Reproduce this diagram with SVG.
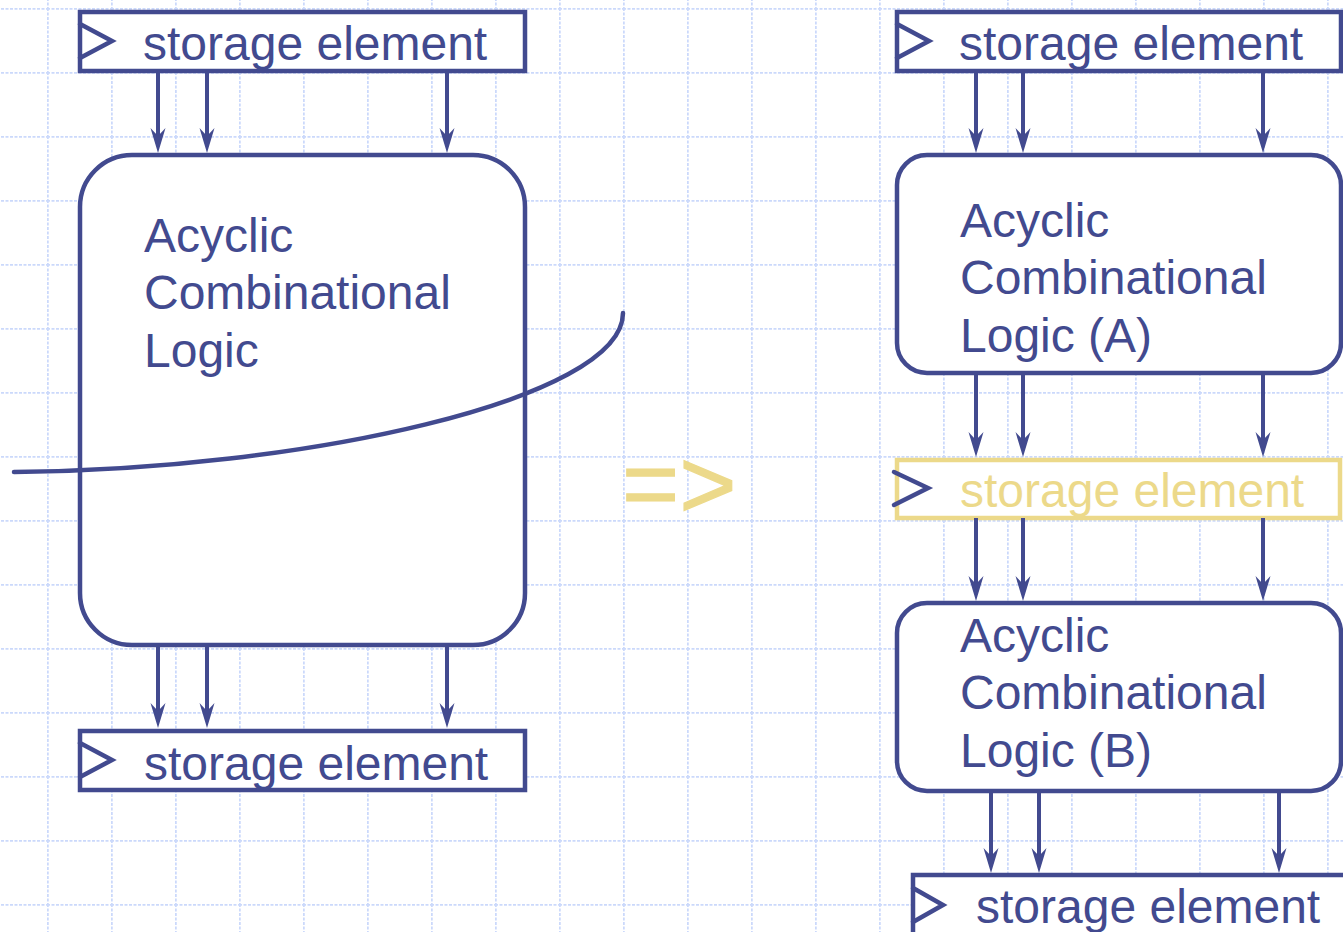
<svg xmlns="http://www.w3.org/2000/svg" width="1343" height="932" viewBox="0 0 1343 932">
<style>
.w{fill:#fff;stroke:#424a8f;stroke-width:4.5}
.clk{fill:none;stroke:#424a8f;stroke-width:4.5;stroke-linecap:round;stroke-linejoin:miter}
.t{font-family:"Liberation Sans",Arial,sans-serif;font-size:48px;fill:#424a8f}
.ty{font-family:"Liberation Sans",Arial,sans-serif;font-size:48px;fill:#ecd98a}
.c{stroke:#424a8f;stroke-width:4;fill:none}
.ah{fill:#424a8f}
.g{stroke:#cbd9fb;stroke-width:3.5;stroke-dasharray:3 1.5;fill:none}
</style>
<defs>
<path id="ah" class="ah" d="M0,0 L-7.5,-25 L0,-17 L7.5,-25 Z"/>
<pattern id="grid" x="47" y="8" width="64" height="64" patternUnits="userSpaceOnUse">
<path class="g" d="M0,0 V64 M0,0 H64"/>
</pattern>
</defs>
<rect width="1343" height="932" fill="#fff"/>
<rect width="1343" height="932" fill="url(#grid)"/>

<g id="left-top-storage">
<rect class="w" x="80" y="12" width="445" height="59"/>
<path class="clk" d="M80,24 L112,41 L80,58"/>
<text class="t" x="143" y="60">storage element</text>
</g>
<g id="left-logic">
<rect class="w" x="80" y="155" width="445" height="490" rx="52" ry="52"/>
<text class="t" x="144" y="252">Acyclic</text>
<text class="t" x="144" y="309">Combinational</text>
<text class="t" x="144" y="367">Logic</text>
</g>
<g id="left-bottom-storage">
<rect class="w" x="80" y="731" width="445" height="59"/>
<path class="clk" d="M80,743 L112,760 L80,777"/>
<text class="t" x="144" y="780">storage element</text>
</g>

<g id="right-top-storage">
<rect class="w" x="897" y="12" width="444" height="59"/>
<path class="clk" d="M897,24 L929,41 L897,58"/>
<text class="t" x="959" y="60">storage element</text>
</g>
<g id="logic-a">
<rect class="w" x="897" y="155" width="444" height="218" rx="30" ry="30"/>
<text class="t" x="960" y="237">Acyclic</text>
<text class="t" x="960" y="294">Combinational</text>
<text class="t" x="960" y="352">Logic (A)</text>
</g>
<g id="mid-storage">
<rect x="897" y="460" width="443" height="58" fill="#fff" stroke="#ecd98a" stroke-width="4.5"/>
<path class="clk" d="M894,472 L928,488 L894,505"/>
<text class="ty" x="960" y="507">storage element</text>
</g>
<g id="logic-b">
<rect class="w" x="897" y="603" width="444" height="188" rx="30" ry="30"/>
<text class="t" x="960" y="652">Acyclic</text>
<text class="t" x="960" y="709">Combinational</text>
<text class="t" x="960" y="767">Logic (B)</text>
</g>
<g id="right-bottom-storage">
<rect class="w" x="913" y="875" width="440" height="70"/>
<path class="clk" d="M913,888 L943,905 L913,922"/>
<text class="t" x="976" y="923">storage element</text>
</g>

<g id="connectors">
<path class="c" d="M158,71 V140 M207,71 V140 M447,71 V140"/>
<use href="#ah" x="158" y="153"/><use href="#ah" x="207" y="153"/><use href="#ah" x="447" y="153"/>
<path class="c" d="M158,645 V715 M207,645 V715 M447,645 V715"/>
<use href="#ah" x="158" y="728"/><use href="#ah" x="207" y="728"/><use href="#ah" x="447" y="728"/>

<path class="c" d="M976,71 V140 M1023,71 V140 M1263,71 V140"/>
<use href="#ah" x="976" y="153"/><use href="#ah" x="1023" y="153"/><use href="#ah" x="1263" y="153"/>
<path class="c" d="M976,373 V443 M1023,373 V443 M1263,373 V443"/>
<use href="#ah" x="976" y="457"/><use href="#ah" x="1023" y="457"/><use href="#ah" x="1263" y="457"/>
<path class="c" d="M976,518 V588 M1023,518 V588 M1263,518 V588"/>
<use href="#ah" x="976" y="601"/><use href="#ah" x="1023" y="601"/><use href="#ah" x="1263" y="601"/>
<path class="c" d="M991,791 V860 M1039,791 V860 M1279,791 V860"/>
<use href="#ah" x="991" y="873"/><use href="#ah" x="1039" y="873"/><use href="#ah" x="1279" y="873"/>
</g>

<g id="cut">
<path d="M14,472 C300,470 623,400 623,313" fill="none" stroke="#424a8f" stroke-width="4.5" stroke-linecap="round"/>
</g>
<g id="implies">
<text x="622" y="518" font-family="'Liberation Sans',Arial,sans-serif" font-size="98" fill="#ecd98a" stroke="#ecd98a" stroke-width="1.2">=&gt;</text>
</g>
</svg>
